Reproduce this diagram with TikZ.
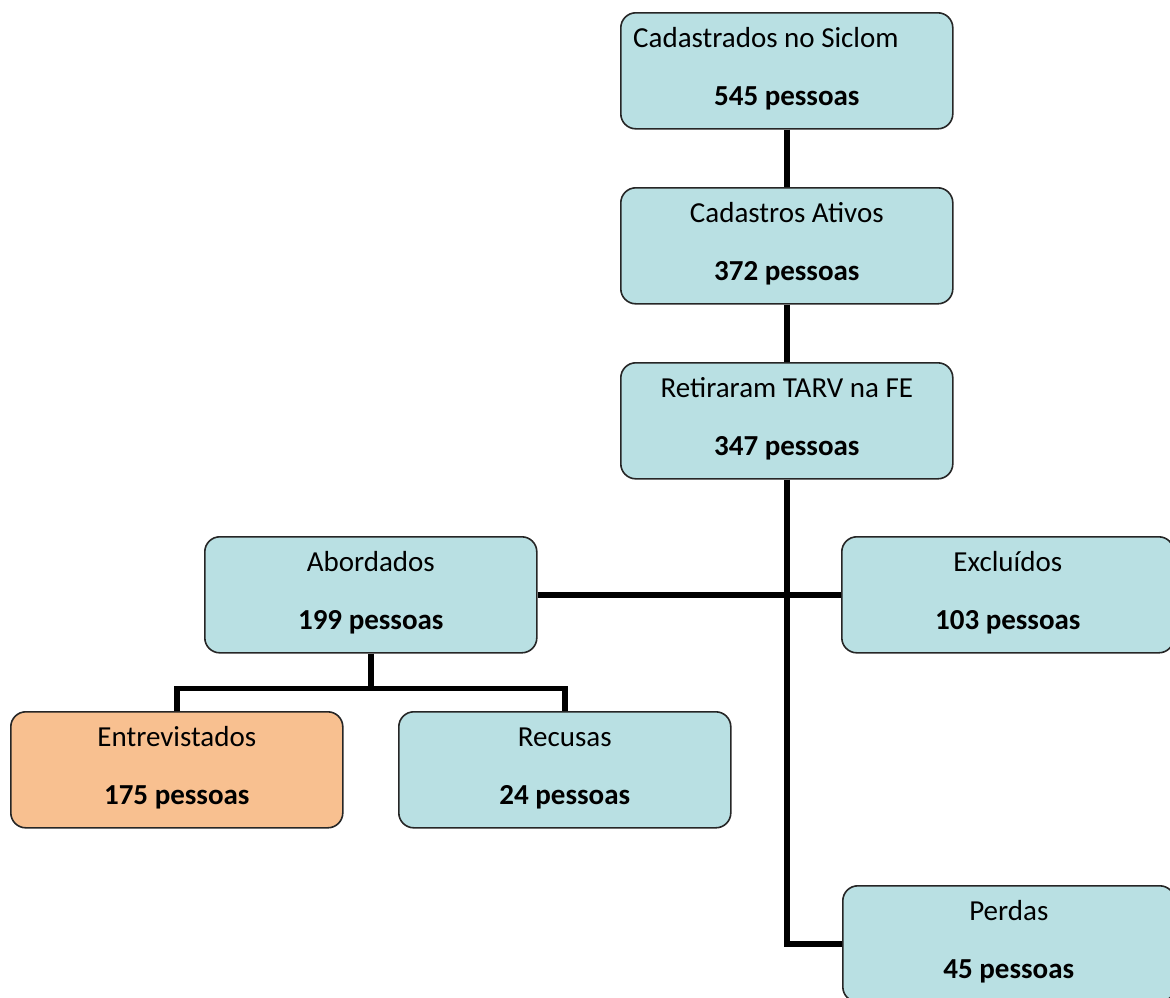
\documentclass[tikz,border=0pt]{standalone}
\usepackage{fontspec}
\setmainfont{Carlito}
\definecolor{boxblue}{HTML}{B9E0E3}
\definecolor{boxorange}{HTML}{F8C090}
\begin{document}
\begin{tikzpicture}[x=1pt,y=-1pt,
  flowbox/.style={draw=black!85,line width=1.6pt,rounded corners=15pt,fill=boxblue,
    minimum width=332pt,minimum height=116pt,inner sep=0pt,anchor=north west},
  toptext/.style={font=\fontsize{29}{34}\selectfont,anchor=center,inner sep=0pt},
  numtext/.style={font=\fontsize{29}{34}\selectfont\bfseries,anchor=center,inner sep=0pt},
  link/.style={line width=5.5pt,black}]
\useasboundingbox (0,0) rectangle (1170,997);
\node[flowbox] (siclom) at (620,12) {};
\node[flowbox] (ativos) at (620,187) {};
\node[flowbox] (tarv) at (620,362) {};
\node[flowbox] (abord) at (204,536) {};
\node[flowbox] (excl) at (841,536) {};
\node[flowbox,fill=boxorange] (entrev) at (10,711) {};
\node[flowbox] (recus) at (398,711) {};
\node[flowbox] (perdas) at (842,885) {};
% texts
\node[toptext,anchor=west] (t1) at ([xshift=13pt,yshift=-26pt]siclom.north west) {Cadastrados no Siclom};
\node[numtext] (n1) at ([yshift=-86pt]siclom.north) {545 pessoas};
\node[toptext] (t2) at ([yshift=-26pt]ativos.north) {Cadastros Ativos};
\node[numtext] (n2) at ([yshift=-86pt]ativos.north) {372 pessoas};
\node[toptext] (t3) at ([yshift=-26pt]tarv.north) {Retiraram TARV na FE};
\node[numtext] (n3) at ([yshift=-86pt]tarv.north) {347 pessoas};
\node[toptext] (t4) at ([yshift=-26pt]abord.north) {Abordados};
\node[numtext] (n4) at ([yshift=-86pt]abord.north) {199 pessoas};
\node[toptext] (t5) at ([yshift=-26pt]excl.north) {Excluídos};
\node[numtext] (n5) at ([yshift=-86pt]excl.north) {103 pessoas};
\node[toptext] (t6) at ([yshift=-26pt]entrev.north) {Entrevistados};
\node[numtext] (n6) at ([yshift=-86pt]entrev.north) {175 pessoas};
\node[toptext] (t7) at ([yshift=-26pt]recus.north) {Recusas};
\node[numtext] (n7) at ([yshift=-86pt]recus.north) {24 pessoas};
\node[toptext] (t8) at ([yshift=-26pt]perdas.north) {Perdas};
\node[numtext] (n8) at ([yshift=-86pt]perdas.north) {45 pessoas};
% connectors
\coordinate (elbow) at (tarv.south |- perdas.west);
\coordinate (abj) at ([yshift=-35pt]abord.south);
\draw[link] (siclom.south) -- (ativos.north);
\draw[link] (ativos.south) -- (tarv.north);
\draw[link] (tarv.south) -- (elbow) -- (perdas.west);
\draw[link] (abord.east) -- (excl.west);
\draw[link] (abord.south) -- (abj);
\draw[link] (entrev.north) -- (entrev.north |- abj) -- (recus.north |- abj) -- (recus.north);
\end{tikzpicture}
\end{document}
